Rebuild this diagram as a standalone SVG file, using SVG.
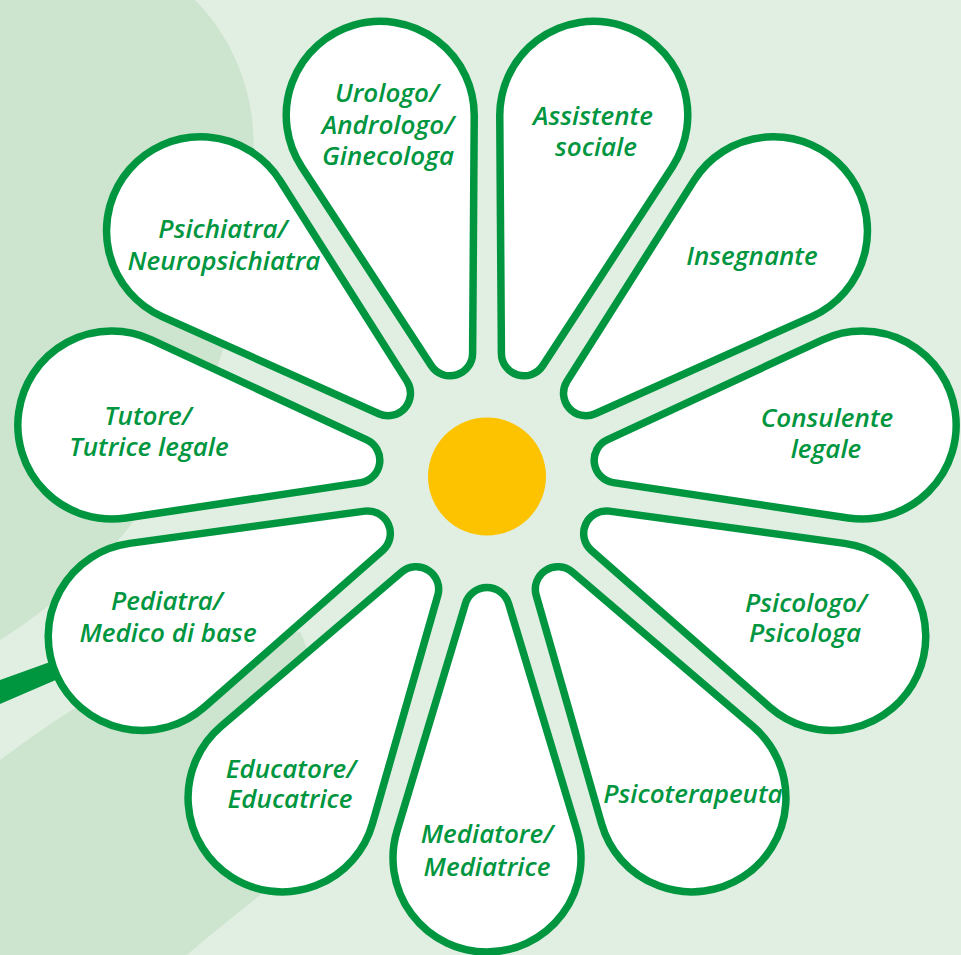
<svg xmlns="http://www.w3.org/2000/svg" xmlns:xlink="http://www.w3.org/1999/xlink" width="961" height="955" viewBox="0 0 961 955">
  <style>
    .petal { fill: #ffffff; stroke: #009640; stroke-width: 7.5; stroke-linejoin: round; }
    .lbl { font-family: "Open Sans", "Noto Sans", "Liberation Sans", sans-serif; font-style: italic; font-weight: 600; font-size: 26px; fill: #009640; text-anchor: middle; }
  </style>
  <defs>
    <!-- teardrop petal: tip circle at origin (r 22.5), outer circle at x=248 (r 94) -->
    <path id="petal" d="M-6.49,21.54 L220.9,90 A94 94 0 1 0 220.9,-90 L-6.49,-21.54 A22.5 22.5 0 0 0 -6.49,21.54 Z"/>
  </defs>

  <!-- background -->
  <rect width="961" height="955" fill="#e0efe2"/>
  <path d="M0,0 L195,0 C235,40 258,100 253,160 C250,230 240,290 223,350 C200,420 170,475 137,517 C100,565 55,605 0,640 Z" fill="#cde4cf"/>
  <path d="M0,760 C30,738 55,720 77,707 C150,665 230,640 300,632 C335,700 305,830 260,895 C235,915 210,935 187,955 L0,955 Z" fill="#cde4cf"/>

  <!-- stem -->
  <g id="stem">
    <polygon points="0,680 50,662 58,679 0,704" fill="#009640"/>
  </g>

  <g id="petals">
    <g id="p-mediatore">
      <use xlink:href="#petal" class="petal" transform="translate(487 479) rotate(90) translate(131 0)"/>
      <text class="lbl" x="487" y="843">Mediatore/</text>
      <text class="lbl" x="487" y="876">Mediatrice</text>
    </g>
    <g id="p-educatore">
      <use xlink:href="#petal" class="petal" transform="translate(487 479) rotate(122.73) translate(131 0)"/>
      <text class="lbl" x="291" y="778">Educatore/</text>
      <text class="lbl" x="290" y="808">Educatrice</text>
    </g>
    <g id="p-pediatra">
      <use xlink:href="#petal" class="petal" transform="translate(487 479) rotate(155.45) translate(131 0)"/>
      <text class="lbl" x="167" y="610">Pediatra/</text>
      <text class="lbl" x="168" y="642">Medico di base</text>
    </g>
    <g id="p-tutore">
      <use xlink:href="#petal" class="petal" transform="translate(487 479) rotate(188.18) translate(131 0)"/>
      <text class="lbl" x="148" y="425">Tutore/</text>
      <text class="lbl" x="149" y="456">Tutrice legale</text>
    </g>
    <g id="p-psichiatra">
      <use xlink:href="#petal" class="petal" transform="translate(487 479) rotate(220.91) translate(131 0)"/>
      <text class="lbl" x="223" y="238">Psichiatra/</text>
      <text class="lbl" x="224" y="270">Neuropsichiatra</text>
    </g>
    <g id="p-urologo">
      <use xlink:href="#petal" class="petal" transform="translate(487 479) rotate(253.64) translate(131 0)"/>
      <text class="lbl" x="387" y="102">Urologo/</text>
      <text class="lbl" x="388" y="134">Andrologo/</text>
      <text class="lbl" x="388" y="165">Ginecologa</text>
    </g>
    <g id="p-assistente">
      <use xlink:href="#petal" class="petal" transform="translate(487 479) rotate(286.36) translate(131 0)"/>
      <text class="lbl" x="593" y="125">Assistente</text>
      <text class="lbl" x="596" y="156">sociale</text>
    </g>
    <g id="p-insegnante">
      <use xlink:href="#petal" class="petal" transform="translate(487 479) rotate(319.09) translate(131 0)"/>
      <text class="lbl" x="752" y="265">Insegnante</text>
    </g>
    <g id="p-consulente">
      <use xlink:href="#petal" class="petal" transform="translate(487 479) rotate(351.82) translate(131 0)"/>
      <text class="lbl" x="827" y="427">Consulente</text>
      <text class="lbl" x="826" y="458">legale</text>
    </g>
    <g id="p-psicologo">
      <use xlink:href="#petal" class="petal" transform="translate(487 479) rotate(24.55) translate(131 0)"/>
      <text class="lbl" x="806" y="612">Psicologo/</text>
      <text class="lbl" x="805" y="642">Psicologa</text>
    </g>
    <g id="p-psicoterapeuta">
      <use xlink:href="#petal" class="petal" transform="translate(487 479) rotate(57.27) translate(131 0)"/>
      <text class="lbl" x="693" y="803">Psicoterapeuta</text>
    </g>
  </g>

  <g id="center">
    <circle cx="487" cy="476.5" r="59" fill="#fdc300"/>
  </g>
</svg>
